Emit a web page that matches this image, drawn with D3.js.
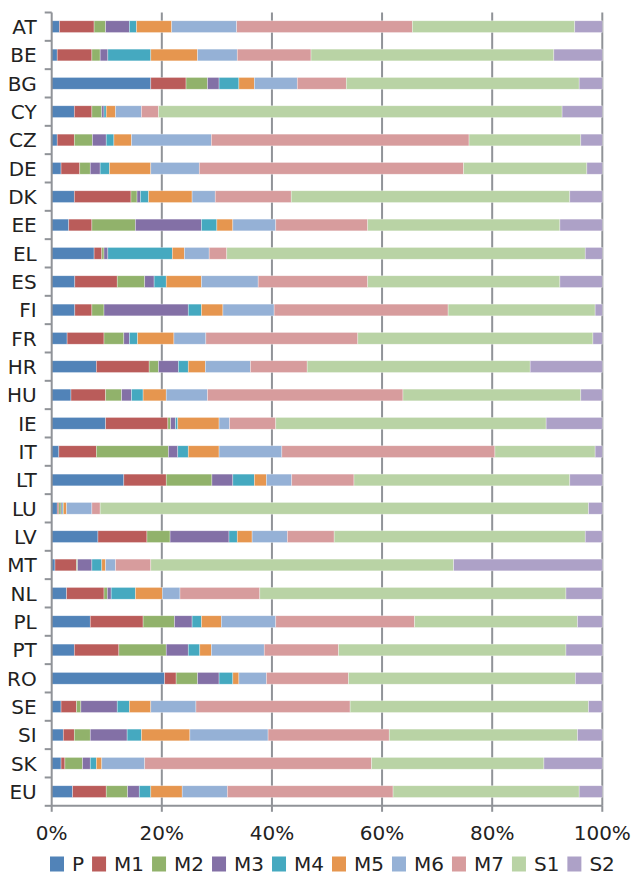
<!DOCTYPE html>
<meta charset="utf-8">
<script src="https://d3js.org/d3.v7.min.js"></script>
<style>
  body { margin: 0; background: #fff; font-family: 'DejaVu Sans', sans-serif; }
  text { fill: #222; }
</style>
<div id="my_dataviz"></div>
<script>

var countries = ["AT","BE","BG","CY","CZ","DE","DK","EE","EL","ES","FI","FR","HR","HU","IE","IT","LT","LU","LV","MT","NL","PL","PT","RO","SE","SI","SK","EU"];
var series = ["P","M1","M2","M3","M4","M5","M6","M7","S1","S2"];
var colors = ["#5183B8","#BA5C5A","#91B26B","#8370A6","#45A9C0","#E6964F","#95B1D6","#D79C9D","#B9D3A5","#ADA1C7"];
var ticks = [0, 0.2, 0.4, 0.6, 0.8, 1];

// shares in % per country, order P..S2
var P  = [1.4,1.0,18.0,4.1,1.0,1.7,4.1,3.1,7.7,4.2,4.2,2.8,8.1,3.5,9.8,1.3,13.1,1.0,8.4,0.6,2.7,7.0,4.1,20.5,1.7,2.1,1.7,3.8];
var M1 = [6.3,6.3,6.4,3.2,3.1,3.4,10.3,4.2,1.4,7.7,3.1,6.7,9.6,6.3,11.3,6.8,7.7,0.3,8.9,3.9,6.8,9.6,8.1,2.1,2.8,2.0,0.7,6.1];
var M2 = [2.1,1.5,3.9,1.8,3.3,1.9,1.1,7.9,0.4,5.0,2.2,3.6,1.7,2.9,0.5,13.1,8.3,0.4,4.2,0.2,0.6,5.7,8.6,3.9,0.8,2.9,3.2,3.9];
var M3 = [4.3,1.4,2.1,0.4,2.5,1.8,0.6,12.0,0.7,1.7,15.3,1.0,3.6,1.8,0.9,1.7,3.8,0.2,10.7,2.6,0.7,3.2,4.0,3.9,6.6,6.7,1.4,2.1];
var M4 = [1.3,7.8,3.6,0.4,1.4,1.7,1.5,2.8,11.7,2.2,2.4,1.5,1.8,2.1,0.4,1.9,3.9,0.2,1.5,1.8,4.4,1.7,2.1,2.5,2.2,2.6,1.1,2.1];
var M5 = [6.4,8.5,2.8,1.7,3.2,7.5,7.9,2.9,2.2,6.4,3.9,6.6,3.1,4.2,7.5,5.6,2.2,0.6,2.7,0.7,4.9,3.6,2.1,1.1,3.9,8.8,1.0,5.7];
var M6 = [11.8,7.2,7.8,4.7,14.5,8.8,4.2,7.8,4.5,10.3,9.3,5.8,8.2,7.5,1.9,11.4,4.6,4.6,6.4,1.8,3.2,9.9,9.6,5.0,8.2,14.2,7.8,8.2];
var M7 = [31.9,13.4,8.9,3.1,46.8,48.0,13.8,16.7,3.2,19.9,31.6,27.6,10.3,35.5,8.4,38.7,11.3,1.5,8.5,6.4,14.5,25.2,13.5,14.9,28.0,22.0,41.2,30.1];
var S1 = [29.5,44.1,42.3,73.3,20.3,22.4,50.6,34.9,65.1,34.9,26.7,42.7,40.5,32.3,49.1,18.2,39.2,88.7,45.6,55.0,55.6,29.6,41.3,41.2,43.3,34.2,31.3,33.8];
var S2 = [5.0,8.8,4.2,7.3,3.9,2.8,5.9,7.7,3.1,7.7,1.3,1.7,13.1,3.9,10.2,1.3,5.9,2.5,3.1,27.0,6.6,4.5,6.6,4.9,2.5,4.5,10.6,4.2];

var values = [P, M1, M2, M3, M4, M5, M6, M7, S1, S2];
var rows = countries.map(function(c, i) {
  var r = { country: c };
  series.forEach(function(s, j) { r[s] = values[j][i]; });
  return r;
});

var W = 637, H = 876;
var margin = {top: 12.5, right: 34.7, bottom: 70.2, left: 51.7},
    width = W - margin.left - margin.right,
    height = H - margin.top - margin.bottom;

var svg = d3.select("#my_dataviz")
  .append("svg")
    .attr("width", W)
    .attr("height", H)
  .append("g")
    .attr("transform", "translate(" + margin.left + "," + margin.top + ")");

var x = d3.scaleLinear().domain([0, 1]).range([0, width]);
var y = d3.scaleBand().domain(countries).range([0, height])
  .paddingInner(0.585).paddingOuter(0.2925);
var color = d3.scaleOrdinal().domain(series).range(colors);

var stack = d3.stack().keys(series).offset(d3.stackOffsetExpand);
var stacked = stack(rows);

// vertical gridlines
svg.append("g")
  .selectAll("line")
  .data(ticks.slice(1))
  .enter().append("line")
    .attr("x1", function(d) { return x(d); })
    .attr("x2", function(d) { return x(d); })
    .attr("y1", 0)
    .attr("y2", height)
    .attr("stroke", "#909398")
    .attr("stroke-width", 2);

// bars
svg.append("g")
  .selectAll("g")
  .data(stacked)
  .enter().append("g")
    .attr("fill", function(d) { return color(d.key); })
  .selectAll("rect")
  .data(function(d) { return d; })
  .enter().append("rect")
    .attr("x", function(d) { return x(d[0]); })
    .attr("width", function(d) { return Math.max(0, x(d[1]) - x(d[0])); })
    .attr("y", function(d) { return y(d.data.country); })
    .attr("height", y.bandwidth())
    .attr("stroke", "rgba(255,255,255,0.55)")
    .attr("stroke-width", 0.6);

// left axis with ticks at band boundaries
var yAxis = svg.append("g");
yAxis.append("line")
  .attr("x1", 0).attr("x2", 0).attr("y1", 0).attr("y2", height)
  .attr("stroke", "#909398").attr("stroke-width", 2);
yAxis.selectAll(".bt")
  .data(d3.range(countries.length + 1))
  .enter().append("line")
    .attr("x1", -7).attr("x2", 0)
    .attr("y1", function(i) { return i * y.step(); })
    .attr("y2", function(i) { return i * y.step(); })
    .attr("stroke", "#909398").attr("stroke-width", 2);
yAxis.selectAll("text")
  .data(countries)
  .enter().append("text")
    .attr("x", -15)
    .attr("y", function(d) { return y(d) + y.bandwidth() / 2; })
    .attr("dy", "0.36em")
    .style("text-anchor", "end")
    .style("font-size", "20px")
    .text(function(d) { return d; });

// bottom axis
var xAxis = svg.append("g").attr("transform", "translate(0," + height + ")");
xAxis.append("line")
  .attr("x1", 0).attr("x2", width)
  .attr("stroke", "#909398").attr("stroke-width", 2);
xAxis.selectAll(".xt")
  .data(ticks)
  .enter().append("line")
    .attr("x1", function(d) { return x(d); })
    .attr("x2", function(d) { return x(d); })
    .attr("y1", 0).attr("y2", 6)
    .attr("stroke", "#909398").attr("stroke-width", 2);
xAxis.selectAll("text")
  .data(ticks)
  .enter().append("text")
    .attr("x", function(d) { return x(d); })
    .attr("y", 34)
    .style("text-anchor", "middle")
    .style("font-size", "20px")
    .text(function(d) { return d3.format(".0%")(d); });

// legend
var legend = d3.select("svg").append("g")
  .attr("transform", "translate(50,864)");
var lx = 0;
series.forEach(function(s) {
  var item = legend.append("g").attr("transform", "translate(" + lx + ",0)");
  item.append("rect")
    .attr("x", 0).attr("y", -7.5)
    .attr("width", 14).attr("height", 15)
    .attr("fill", color(s));
  var t = item.append("text")
    .attr("x", 22)
    .attr("y", 0)
    .attr("dy", "0.36em")
    .style("font-size", "20px")
    .text(s);
  lx += 22 + t.node().getComputedTextLength() + 8;
});

</script>
